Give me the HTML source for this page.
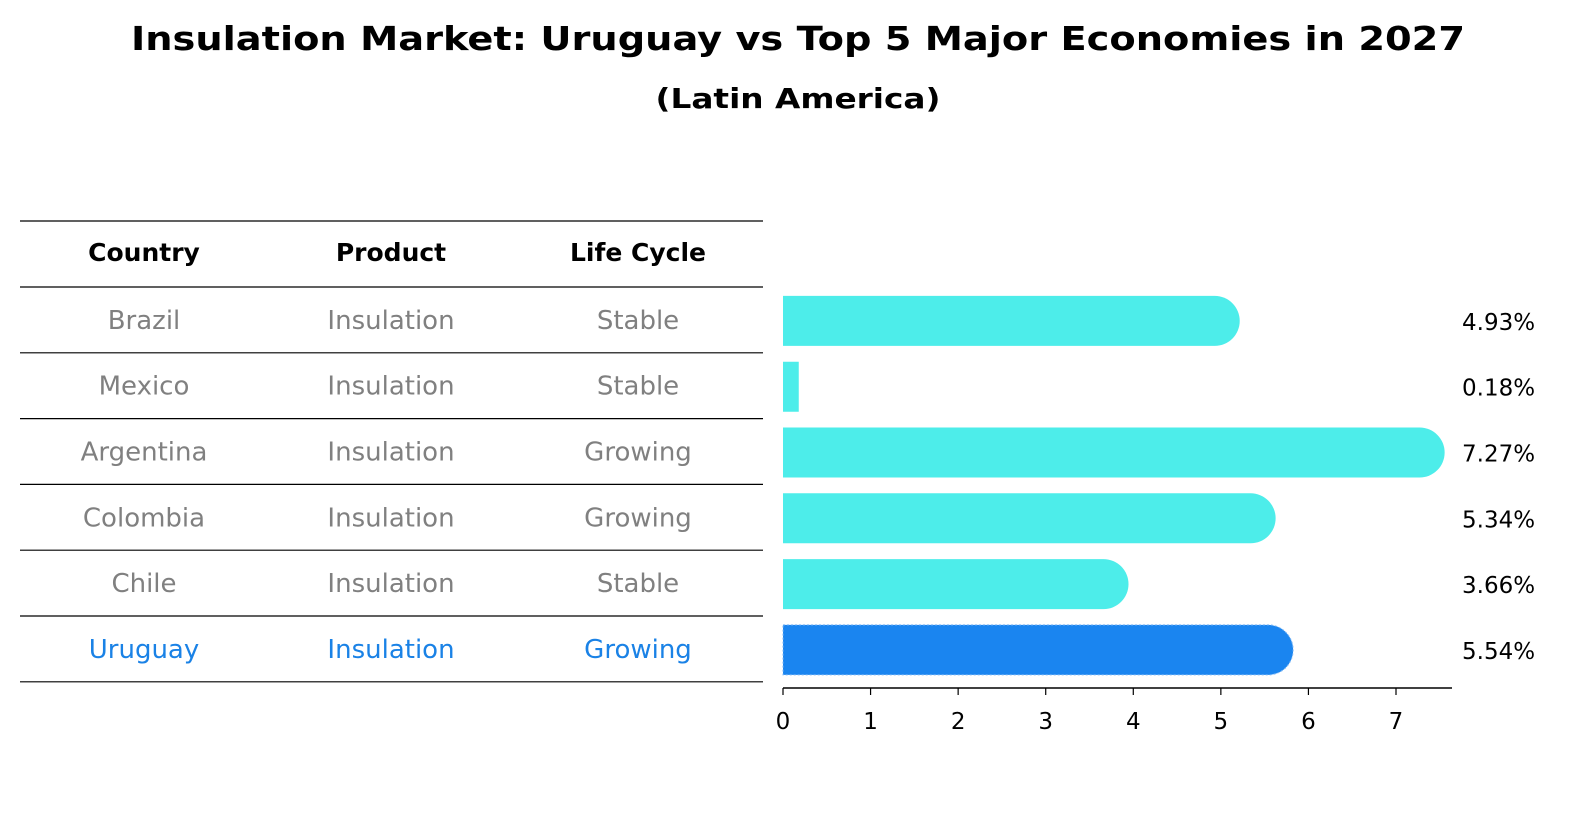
<!DOCTYPE html>
<html><head><meta charset="utf-8"><style>
html,body{margin:0;padding:0;background:#fff;overflow:hidden;width:1586px;height:823px;}
svg{display:block;font-family:"DejaVu Sans","Liberation Sans",sans-serif;}
</style></head><body>
<svg id="chart" width="1586" height="823" viewBox="0 0 1586 823" xmlns="http://www.w3.org/2000/svg">
<text x="798" y="50" text-anchor="middle" font-size="33" font-weight="bold" textLength="1334" lengthAdjust="spacingAndGlyphs">Insulation Market: Uruguay vs Top 5 Major Economies in 2027</text>
<text x="798" y="108" text-anchor="middle" font-size="28" font-weight="bold" textLength="285" lengthAdjust="spacingAndGlyphs">(Latin America)</text>
<g id="table"></g>
<g id="bars"></g>
<g id="axis"></g>
</svg>
<script>
const countries = ["Brazil","Mexico","Argentina","Colombia","Chile","Uruguay"];
const products = ["Insulation","Insulation","Insulation","Insulation","Insulation","Insulation"];
const lifeCycles = ["Stable","Stable","Growing","Growing","Stable","Growing"];
const values = [4.93,0.18,7.27,5.34,3.66,5.54];
const xTicks = [0,1,2,3,4,5,6,7];
const highlight = "Uruguay";

const NS="http://www.w3.org/2000/svg";
function mk(tag,attrs,parent){const e=document.createElementNS(NS,tag);for(const k in attrs)e.setAttribute(k,attrs[k]);parent.appendChild(e);return e;}
const x0=783, xUnit=613/7;
function xs(v){return x0+v*xUnit;}
const rowTop=287, rowH=65.8;
function rowCenter(i){return rowTop+rowH*(i+0.5);}

const table=document.getElementById('table');
const colX=[144,391,638];
const headers=["Country","Product","Life Cycle"];
const lineYs=[221];
for(let i=0;i<=countries.length;i++)lineYs.push(rowTop+rowH*i);
lineYs.forEach((y,i)=>{
  const l=mk('line',{x1:20,x2:763,y1:y,y2:y,stroke:'#000','stroke-width':1.2},table);
  
  
});
headers.forEach((h,j)=>{
  const t=mk('text',{x:colX[j],y:261,'text-anchor':'middle','font-size':25,'font-weight':'bold'},table);
  t.textContent=h;
  
  
});
countries.forEach((c,i)=>{
  const col=c===highlight?'#1a82e6':'#808080';
  [c,products[i],lifeCycles[i]].forEach((v,j)=>{
    const t=mk('text',{x:colX[j],y:rowCenter(i)+9,'text-anchor':'middle','font-size':26,fill:col},table);
    t.textContent=v;
    
    
  });
});

const bars=document.getElementById('bars');
const bh=50, r=25;
values.forEach((v,i)=>{
  const cy=rowCenter(i)+1, y=cy-bh/2, xe=xs(v);
  const isH=countries[i]===highlight;
  const fill=isH?'#1a85f0':'#4dedea';
  let d;
  if(xe-x0>r){d=`M${x0},${y} H${xe} A${r},${r} 0 0 1 ${xe},${y+bh} H${x0} Z`;}
  else{d=`M${x0},${y} H${xe} V${y+bh} H${x0} Z`;}
  const p=mk('path',{d:d,fill:fill},bars);
  if(isH){p.setAttribute('stroke','#7fb8f5');p.setAttribute('stroke-dasharray','2,2');p.setAttribute('stroke-width','1');}
  
  
  const t=mk('text',{x:1462,y:cy+9,'font-size':23},bars);
  t.textContent=v.toFixed(2)+'%';
  
  
});

const axis=document.getElementById('axis');
const al=mk('line',{x1:x0,x2:1452,y1:688,y2:688,stroke:'#000','stroke-width':1.5},axis);


xTicks.forEach(v=>{
  const tk=mk('line',{x1:xs(v),x2:xs(v),y1:688,y2:695,stroke:'#000','stroke-width':1.2},axis);
  
  
  const t=mk('text',{x:xs(v),y:729,'text-anchor':'middle','font-size':23},axis);
  t.textContent=String(v);
  
  
});
</script>
</body></html>
